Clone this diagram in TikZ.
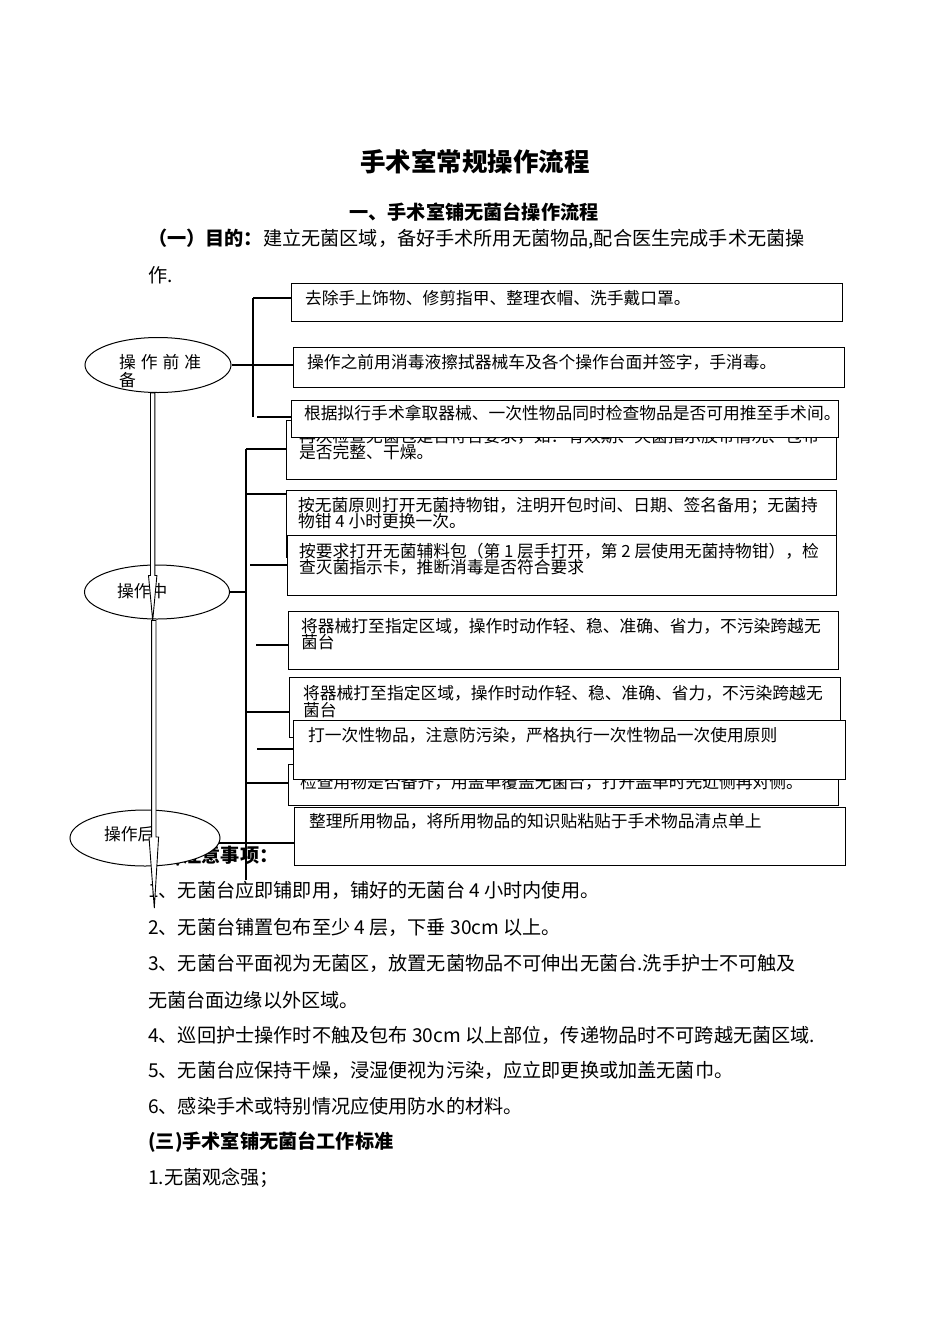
\documentclass[tikz,border=0pt]{standalone}
\usepackage{fontspec}
\setmainfont{Noto Sans CJK SC}
\usetikzlibrary{calc,shapes.geometric}
\pgfdeclarelayer{bg}
\pgfdeclarelayer{paper}
\pgfsetlayers{paper,bg,main}
\newcommand\myvarrow[5]{\draw[line width=0.9pt, fill=white] let \p1=(#1), \p2=(#2) in (\x1-#3,\y1) -- (\x1-#3,\y2+#5) -- (\x1-#4,\y2+#5) -- (\x2,\y2) -- (\x1+#4,\y2+#5) -- (\x1+#3,\y2+#5) -- (\x1+#3,\y1) -- cycle;}
\begin{document}
\begin{tikzpicture}[x=1pt,y=-1pt,
  boxst/.style={draw, line width=1.1pt, fill=white, anchor=north west, inner sep=0pt},
  bt/.style={inner sep=0pt, anchor=base west, font=\fontsize{16.76}{16.76}\selectfont},
  body/.style={inner sep=0pt, anchor=base west, font=\fontsize{19.15}{19.15}\selectfont},
  ell/.style={draw, ellipse, line width=1pt, fill=white, inner sep=0pt},
  ln/.style={line width=1.1pt}]
\begin{pgfonlayer}{paper}
\fill[white] (0,0) rectangle (950,1344);
\end{pgfonlayer}
\useasboundingbox (0,0) rectangle (950,1344);

% headings
\node[inner sep=0pt, anchor=base, font=\bfseries\fontsize{25.5}{25.5}\selectfont] (title) at (475,171) {手术室常规操作流程};
\node[inner sep=0pt, anchor=base, font=\bfseries\fontsize{19.15}{19.15}\selectfont] (h1) at (474,219) {一、手术室铺无菌台操作流程};
\node[body] (p1) at (148,245) {\textbf{（一）目的：}建立无菌区域，备好手术所用无菌物品,配合医生完成手术无菌操};
\node[body] (p2) at (148,282) {作.};

% notes
\node[body] (n0) at (148,862) {\textbf{(二)注意事项：}};
\node[body] (n1) at (148,897) {1、无菌台应即铺即用，铺好的无菌台 4 小时内使用。};
\node[body] (n2) at (148,934) {2、无菌台铺置包布至少 4 层，下垂 30cm 以上。};
\node[body] (n3) at (148,970) {3、无菌台平面视为无菌区，放置无菌物品不可伸出无菌台.洗手护士不可触及};
\node[body] (n3b) at (148,1007) {无菌台面边缘以外区域。};
\node[body] (n4) at (148,1042) {4、巡回护士操作时不触及包布 30cm 以上部位，传递物品时不可跨越无菌区域.};
\node[body] (n5) at (148,1077) {5、无菌台应保持干燥，浸湿便视为污染，应立即更换或加盖无菌巾。};
\node[body] (n6) at (148,1113) {6、感染手术或特别情况应使用防水的材料。};
\node[body] (n7) at (148,1148) {\textbf{(三)手术室铺无菌台工作标准}};
\node[body] (n8) at (148,1184) {1.无菌观念强；};

% boxes
\node[boxst, minimum width=551, minimum height=38] (b1) at (291,283) {};
\node[bt] (t1) at (305,304) {去除手上饰物、修剪指甲、整理衣帽、洗手戴口罩。};
\node[boxst, minimum width=551, minimum height=40] (b2) at (293,347) {};
\node[bt] (t2) at (307,368) {操作之前用消毒液擦拭器械车及各个操作台面并签字，手消毒。};
\node[boxst, minimum width=550, minimum height=59] (b4) at (286,420) {};
\node[bt] (t4a) at (299,442) {再次检查无菌包是否符合要求，如：有效期、灭菌指示胶带情况、包布};
\node[bt] (t4b) at (299,458) {是否完整、干燥。};
\node[boxst, minimum width=547, minimum height=37] (b3) at (291,400) {};
\node[bt] (t3) at (304,419) {根据拟行手术拿取器械、一次性物品同时检查物品是否可用推至手术间。};
\node[boxst, minimum width=550, minimum height=67] (b5) at (286,490) {};
\node[bt] (t5a) at (298,511) {按无菌原则打开无菌持物钳，注明开包时间、日期、签名备用；无菌持};
\node[bt] (t5b) at (298,527) {物钳 4 小时更换一次。};
\node[boxst, minimum width=549, minimum height=60] (b6) at (287,535) {};
\node[bt] (t6a) at (299,557) {按要求打开无菌辅料包（第 1 层手打开，第 2 层使用无菌持物钳），检};
\node[bt] (t6b) at (299,573) {查灭菌指示卡，推断消毒是否符合要求};
\node[boxst, minimum width=550, minimum height=58] (b7) at (288,611) {};
\node[bt] (t7a) at (301,632) {将器械打至指定区域，操作时动作轻、稳、准确、省力，不污染跨越无};
\node[bt] (t7b) at (301,648) {菌台};
\node[boxst, minimum width=551, minimum height=60] (b8) at (289,677) {};
\node[bt] (t8a) at (303,699) {将器械打至指定区域，操作时动作轻、稳、准确、省力，不污染跨越无};
\node[bt] (t8b) at (303,716) {菌台};
\node[boxst, minimum width=550, minimum height=41] (b10) at (288,764) {};
\node[bt] (t10) at (300,788) {检查用物是否备齐，用盖单覆盖无菌台，打开盖单时先近侧再对侧。};
\node[boxst, minimum width=552, minimum height=59] (b9) at (293,720) {};
\node[bt] (t9) at (308,741) {打一次性物品，注意防污染，严格执行一次性物品一次使用原则};
\node[boxst, minimum width=551, minimum height=58] (b11) at (294,807) {};
\node[bt] (t11) at (309,827) {整理所用物品，将所用物品的知识贴粘贴于手术物品清点单上};

% ellipses
\node[ell, minimum width=146, minimum height=55] (e1) at (158,365) {};
\node[bt] (e1ta) at (119,368) {操\hspace{5pt}作\hspace{5pt}前\hspace{5pt}准};
\node[bt] (e1tb) at (119,386) {备};
\node[ell, minimum width=145, minimum height=54] (e2) at (157,592) {};
\node[bt] (e2t) at (117,597) {操作中};
\node[ell, minimum width=150, minimum height=56] (e3) at (145,838) {};
\node[bt] (e3t) at (104,840) {操作后};

% connectors
\coordinate (v1t) at (253,298);
\coordinate (v1b) at (253,417);
\coordinate (v2t) at (246,449);
\coordinate (v2b) at (246,880);
\begin{pgfonlayer}{bg}
\draw[ln] (v1t) -- (v1b);
\draw[ln] (v1t) -- (v1t -| b1.west);
\draw[ln] (e1) -- (e1 -| b2.west);
\draw[ln] ([xshift=4]v1b) -- (v1b -| b3.west);
\draw[ln] (v2t) -- (v2b);
\draw[ln] (v2t) -- (v2t -| b4.west);
\draw[ln] ([yshift=-45]v2t) -- ([yshift=-45]v2t -| b5.west);
\draw[ln] ([xshift=4,yshift=-116]v2t) -- ([yshift=-116]v2t -| b6.west);
\draw[ln] (e2) -- (e2 -| v2t);
\draw[ln] ([xshift=10,yshift=-196]v2t) -- ([yshift=-196]v2t -| b7.west);
\draw[ln] ([yshift=-263]v2t) -- ([yshift=-263]v2t -| b8.west);
\draw[ln] ([xshift=11,yshift=-300]v2t) -- ([yshift=-300]v2t -| b9.west);
\draw[ln] ([yshift=-334]v2t) -- ([yshift=-334]v2t -| b10.west);
\draw[ln] ([yshift=-5]e3.center) -- ([yshift=-5]e3.center -| b11.west);
\end{pgfonlayer}

% block arrows
\coordinate (a1s) at ([xshift=-5.3]e1.south);
\coordinate (a1e) at ([xshift=-4.3,yshift=-1]e2.south);
\coordinate (a2s) at ([xshift=-3.2,yshift=-1]e2.south);
\coordinate (a2e) at (154.3,908);
\myvarrow{a1s}{a1e}{2.2}{4.2}{45}
\myvarrow{a2s}{a2e}{2.2}{4.8}{71}
\end{tikzpicture}
\end{document}
